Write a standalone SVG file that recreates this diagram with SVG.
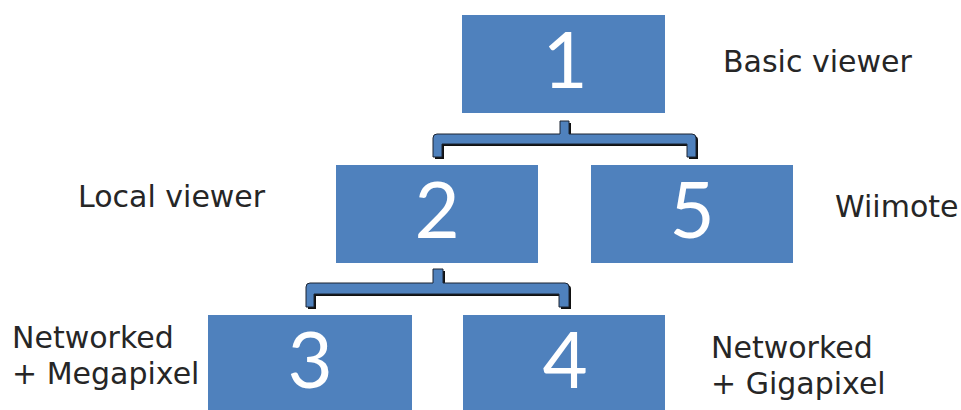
<svg xmlns="http://www.w3.org/2000/svg" width="961" height="410" viewBox="0 0 961 410">
<style>
.box{fill:#4F81BD}
.num{font-family:Lato,"Open Sans",sans-serif;font-size:78px;fill:#fff;text-anchor:middle}
.lbl{font-family:"DejaVu Sans",Verdana,sans-serif;font-size:30px;fill:#262626}
.br{fill:#4F81BD;stroke:#1c2533;stroke-width:1}
.sh{fill:#111}
</style>
<rect width="961" height="410" fill="#fff"/>
<g id="connectors">
<path class="sh" d="M562,123 H571 V136 H694 Q698,136 698,140 V159 H689 V146 H444 V159 H435 V140 Q435,136 439,136 H562 Z"/>
<path class="br" d="M560,121 H569 V134 H692 Q696,134 696,138 V157 H687 V144 H442 V157 H433 V138 Q433,134 437,134 H560 Z"/>
<path class="sh" d="M435,271 H445 V285 H567 Q571,285 571,289 V309 H561 V296 H316 V309 H308 V289 Q308,285 312,285 H435 Z"/>
<path class="br" d="M433,269 H443 V283 H565 Q569,283 569,287 V307 H559 V294 H314 V307 H306 V287 Q306,283 310,283 H433 Z"/>
</g>
<g id="node1"><rect class="box" x="462" y="15" width="203" height="98"/><text class="num" x="565" y="88">1</text></g>
<g id="node2"><rect class="box" x="336" y="165" width="202" height="98"/><text class="num" x="437" y="238">2</text></g>
<g id="node5"><rect class="box" x="591" y="165" width="202" height="98"/><text class="num" x="692" y="238">5</text></g>
<g id="node3"><rect class="box" x="208" y="315" width="204" height="100"/><text class="num" x="310" y="388">3</text></g>
<g id="node4"><rect class="box" x="463" y="315" width="202" height="100"/><text class="num" x="565" y="388">4</text></g>
<g id="labels">
<text class="lbl" x="723" y="72">Basic viewer</text>
<text class="lbl" x="78" y="207">Local viewer</text>
<text class="lbl" x="835" y="217">Wiimote</text>
<text class="lbl" x="12" y="348">Networked</text>
<text class="lbl" x="12" y="384">+ Megapixel</text>
<text class="lbl" x="711" y="358">Networked</text>
<text class="lbl" x="711" y="394">+ Gigapixel</text>
</g>
</svg>
